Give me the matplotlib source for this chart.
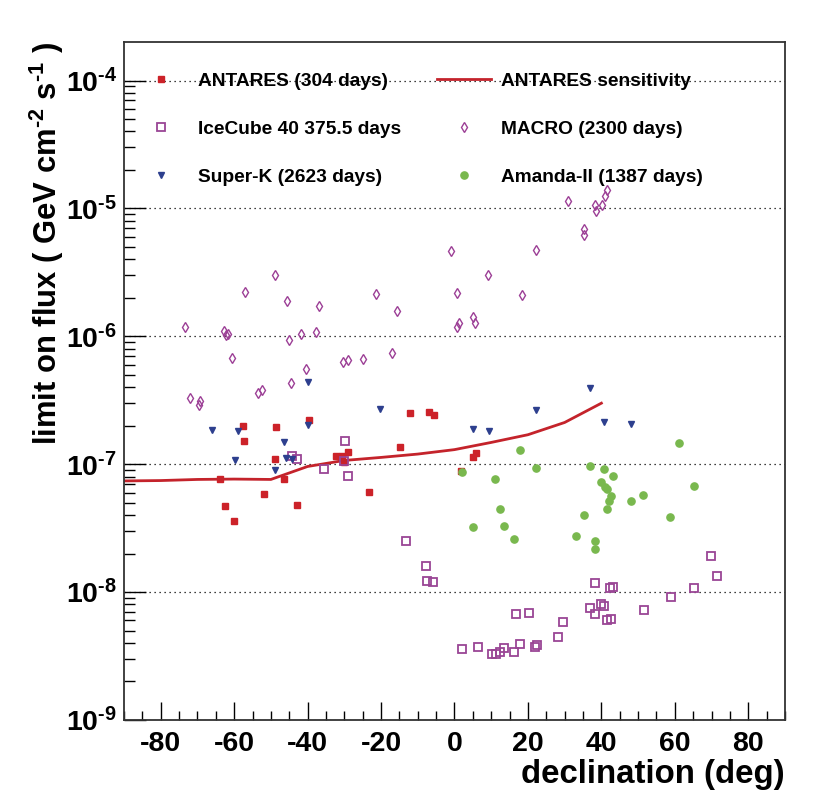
import numpy as np
import matplotlib
matplotlib.use("Agg")
import matplotlib.pyplot as plt
from matplotlib.ticker import FuncFormatter, MultipleLocator, FixedLocator, NullFormatter

plt.rcParams['font.family'] = ['Liberation Sans', 'DejaVu Sans']
plt.rcParams['font.weight'] = 'bold'
plt.rcParams['mathtext.fontset'] = 'custom'
plt.rcParams['mathtext.default'] = 'bf'
plt.rcParams['mathtext.bf'] = 'Liberation Sans:bold'
plt.rcParams['mathtext.rm'] = 'Liberation Sans:bold'
plt.rcParams['axes.unicode_minus'] = False

# ANTARES upper limits (304 days)
antares_dec = [-57.7, -48.6, -39.7, -57.2, -48.8, -63.8, -46.3, -51.8, -62.4, -60.0,
               -43.0, -32.2, -30.5, -29.0, -30.2, -23.4, -12.1, -6.9, -5.7, -14.8,
               5.9, 5.0, 1.7]
antares_flux = [2.0e-7, 1.94e-7, 2.22e-7, 1.52e-7, 1.09e-7, 7.6e-8, 7.6e-8, 5.9e-8, 4.67e-8, 3.57e-8,
                4.84e-8, 1.15e-7, 1.15e-7, 1.24e-7, 1.04e-7, 6.08e-8, 2.50e-7, 2.58e-7, 2.41e-7, 1.37e-7,
                1.22e-7, 1.13e-7, 8.87e-8]

# ANTARES sensitivity
sens_dec = [-90, -80, -70, -60, -50, -40, -30, -20, -10, 0, 10, 20, 30, 40]
sens_flux = [7.4e-8, 7.45e-8, 7.6e-8, 7.65e-8, 7.6e-8, 9.6e-8, 1.07e-7, 1.13e-7, 1.2e-7,
             1.3e-7, 1.48e-7, 1.7e-7, 2.12e-7, 3.0e-7]

# IceCube 40 (375.5 days)
icecube_dec = [-44.2, -42.9, -35.6, -29.8, -30.0, -29.0, -13.2, -7.8, -7.6, -5.8,
               38.2, 42.3, 43.1, 65.2, 58.9, 69.8, 71.5, 36.9, 39.8, 40.8,
               38.2, 51.7, 41.6, 42.7, 16.7, 20.3, 29.6, 28.3, 2.0, 6.3,
               10.3, 11.4, 12.4, 13.6, 16.2, 17.8, 22.0, 22.5]
icecube_flux = [1.155e-7, 1.09e-7, 9.25e-8, 1.52e-7, 1.06e-7, 8.05e-8, 2.49e-8, 1.60e-8, 1.22e-8, 1.20e-8,
                1.17e-8, 1.08e-8, 1.09e-8, 1.07e-8, 9.1e-9, 1.91e-8, 1.33e-8, 7.5e-9, 8.1e-9, 7.8e-9,
                6.77e-9, 7.27e-9, 6.04e-9, 6.15e-9, 6.77e-9, 6.89e-9, 5.86e-9, 4.45e-9, 3.61e-9, 3.74e-9,
                3.26e-9, 3.26e-9, 3.42e-9, 3.65e-9, 3.42e-9, 3.93e-9, 3.72e-9, 3.84e-9]

# MACRO (2300 days)
macro_dec = [31.0, 38.3, 40.3, 38.4, 41.0, 41.6, 35.4, 35.2, -1.0, 22.1,
             9.1, 0.7, 18.4, -15.6, 5.1, 5.7, 1.3, 0.7, -73.5, -48.8,
             -57.0, -45.6, -37.0, -21.4, -62.7, -62.2, -61.6, -45.1, -41.7, -37.7,
             -60.6, -40.5, -44.5, -30.4, -28.9, -24.8, -17.0, -72.0, -69.3, -69.5,
             -53.4, -52.4]
macro_flux = [1.14e-5, 1.07e-5, 1.07e-5, 9.48e-6, 1.24e-5, 1.40e-5, 6.94e-6, 6.24e-6, 4.67e-6, 4.70e-6,
              3.01e-6, 2.19e-6, 2.10e-6, 1.59e-6, 1.41e-6, 1.27e-6, 1.28e-6, 1.18e-6, 1.18e-6, 3.01e-6,
              2.21e-6, 1.88e-6, 1.73e-6, 2.13e-6, 1.11e-6, 1.03e-6, 1.05e-6, 9.42e-7, 1.04e-6, 1.09e-6,
              6.82e-7, 5.52e-7, 4.32e-7, 6.34e-7, 6.53e-7, 6.70e-7, 7.46e-7, 3.32e-7, 3.10e-7, 2.88e-7,
              3.59e-7, 3.80e-7]

# Super-K (2623 days)
superk_dec = [-66.0, -59.0, -39.8, -39.8, -20.3, -46.3, -59.8, -45.8, -44.2, -48.8,
              5.1, 9.4, 22.1, 36.8, 40.8, 48.0]
superk_flux = [1.85e-7, 1.81e-7, 4.39e-7, 2.04e-7, 2.69e-7, 1.48e-7, 1.08e-7, 1.11e-7, 1.10e-7, 8.98e-8,
               1.87e-7, 1.81e-7, 2.67e-7, 3.97e-7, 2.12e-7, 2.08e-7]

# Amanda-II (1387 days)
amanda_dec = [2.1, 17.8, 22.1, 11.1, 12.4, 5.0, 13.6, 36.9, 40.8, 43.1,
              39.8, 41.0, 41.5, 42.7, 42.2, 41.6, 35.3, 48.0, 51.2, 58.7,
              61.0, 65.2, 16.2, 33.0, 38.2, 38.2]
amanda_flux = [8.66e-8, 1.28e-7, 9.31e-8, 7.73e-8, 4.48e-8, 3.22e-8, 3.26e-8, 9.70e-8, 9.25e-8, 8.05e-8,
               7.27e-8, 6.65e-8, 6.38e-8, 5.69e-8, 5.14e-8, 4.48e-8, 4.0e-8, 5.2e-8, 5.73e-8, 3.84e-8,
               1.47e-7, 6.77e-8, 2.59e-8, 2.74e-8, 2.53e-8, 2.19e-8]

decades = [-9, -8, -7, -6, -5, -4]

fig = plt.figure(figsize=(8.28, 8.0), dpi=100)
ax = fig.add_axes([124 / 828, 80 / 800, 661 / 828, 678 / 800])

ax.set_yscale('log')
ax.set_xlim(-90, 90)
ax.set_ylim(1e-9, 2e-4)

ax.yaxis.grid(True, which='major', linestyle=(0, (1, 3)), color='black', lw=0.9)
ax.set_axisbelow(True)

h_ant, = ax.plot(antares_dec, antares_flux, 's', color='#cc2229', ms=4.8, ls='none',
                 label='ANTARES (304 days)')
h_sens, = ax.plot(sens_dec, sens_flux, '-', color='#c4232b', lw=2,
                  label='ANTARES sensitivity')
h_ice, = ax.plot(icecube_dec, icecube_flux, 's', mfc='none', mec='#9a4595', mew=1.3, ms=6,
                 ls='none', label='IceCube 40 375.5 days')
h_mac, = ax.plot(macro_dec, macro_flux, 'd', mfc='none', mec='#9c3f96', mew=1.0, ms=5.5,
                 ls='none', label='MACRO (2300 days)')
h_sk, = ax.plot(superk_dec, superk_flux, 'v', color='#2d3f8e', ms=5, ls='none',
                label='Super-K (2623 days)')
h_am, = ax.plot(amanda_dec, amanda_flux, 'o', color='#79b84e', ms=5.2, ls='none',
                label='Amanda-II (1387 days)')

# ticks, ROOT style
major_y = [10.0 ** e for e in decades]
minor_y = [m * 10.0 ** e for e in decades for m in range(2, 10) if m * 10.0 ** e < 2e-4]
ax.xaxis.set_major_locator(MultipleLocator(20))
ax.xaxis.set_minor_locator(MultipleLocator(5))
ax.yaxis.set_major_locator(FixedLocator(major_y))
ax.yaxis.set_minor_locator(FixedLocator(minor_y))
ax.yaxis.set_minor_formatter(NullFormatter())
ax.yaxis.set_major_formatter(FuncFormatter(lambda v, p: r'$10^{\text{-%d}}$' % abs(round(np.log10(v)))))
ax.tick_params(axis='x', which='major', direction='in', length=13, width=1, labelsize=20.5, pad=8)
ax.tick_params(axis='x', which='minor', direction='in', length=6.5, width=1)
ax.tick_params(axis='y', which='major', direction='in', length=16, width=1, labelsize=20.5, pad=5)
ax.tick_params(axis='y', which='minor', direction='in', length=8, width=1)
for lab in ax.get_xticklabels():
    lab.set_fontweight('bold')
for s in ax.spines.values():
    s.set_linewidth(1.3)
    s.set_color('#333333')

ax.set_xlabel('declination (deg)', fontsize=23.8, fontweight='bold', loc='right', labelpad=1)
ax.set_ylabel(r'limit on flux ( GeV cm$^{\text{-2}}$ s$^{\text{-1}}$ )', fontsize=22.3,
              fontweight='bold', loc='top')
ax.yaxis.set_label_coords(-0.088, 1.0)

leg1 = ax.legend(handles=[h_ant, h_ice, h_sk], loc='upper left', bbox_to_anchor=(0.015, 0.955),
                 frameon=False, fontsize=13.8, handlelength=2.8, handletextpad=0.55,
                 labelspacing=1.6, borderpad=0, borderaxespad=0, numpoints=1)
ax.add_artist(leg1)
ax.legend(handles=[h_sens, h_mac, h_am], loc='upper left', bbox_to_anchor=(0.4735, 0.955),
          frameon=False, fontsize=13.8, handlelength=2.8, handletextpad=0.55,
          labelspacing=1.6, borderpad=0, borderaxespad=0, numpoints=1)

fig.savefig('out.png', dpi=100)
